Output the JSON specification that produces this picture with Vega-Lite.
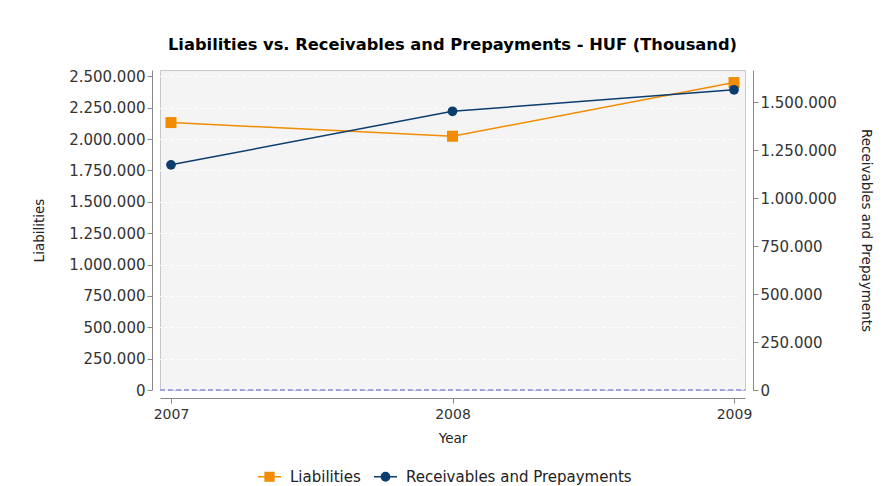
{
  "$schema": "https://vega.github.io/schema/vega-lite/v6.json",
  "autosize": {"type": "none"},
  "width": 585,
  "height": 320,
  "padding": {"left": 160, "top": 70, "right": 140, "bottom": 96},
  "background": "white",
  "config": {
    "locale": {"number": {"decimal": ",", "thousands": ".", "grouping": [3], "currency": ["", ""]}},
    "view": {"fill": "#f4f4f4", "stroke": "#c8c8c8", "strokeWidth": 1},
    "font": "DejaVu Sans",
    "axis": {
      "labelFont": "DejaVu Sans", "labelFontSize": 14, "labelColor": "#333333", "labelOverlap": false,
      "titleFont": "DejaVu Sans", "titleFontSize": 13.5, "titleFontWeight": "normal", "titleColor": "#222222",
      "domainColor": "#888888", "tickColor": "#888888", "tickSize": 5, "offset": 8
    }
  },
  "title": {
    "text": "Liabilities vs. Receivables and Prepayments - HUF (Thousand)",
    "font": "DejaVu Sans", "fontSize": 16.3, "fontWeight": "bold", "color": "#000000",
    "anchor": "middle", "offset": 16
  },
  "data": {
    "values": [
      {"year": "2007", "series": "Liabilities", "value": 2132000},
      {"year": "2008", "series": "Liabilities", "value": 2023000},
      {"year": "2009", "series": "Liabilities", "value": 2451000},
      {"year": "2007", "series": "Receivables and Prepayments", "value": 1173000},
      {"year": "2008", "series": "Receivables and Prepayments", "value": 1452000},
      {"year": "2009", "series": "Receivables and Prepayments", "value": 1564000}
    ]
  },
  "encoding": {
    "x": {
      "field": "year", "type": "ordinal",
      "scale": {"type": "point", "padding": 0.039},
      "axis": {"title": "Year", "grid": false, "labelAngle": 0, "labelPadding": 4, "titlePadding": 10, "labelOverlap": false}
    }
  },
  "layer": [
    {
      "transform": [{"filter": "datum.series === 'Liabilities'"}],
      "layer": [
        {
          "mark": {"type": "rule", "color": "#9a9ae0", "strokeDash": [5, 3], "strokeWidth": 1},
          "encoding": {"y": {"datum": 0, "type": "quantitative"}, "x": {"value": 0}, "x2": {"value": 585}}
        },
        {
          "mark": {"type": "line", "strokeWidth": 1.5, "point": {"filled": true, "shape": "square", "size": 121, "opacity": 1}},
          "encoding": {
            "y": {
              "field": "value", "type": "quantitative",
              "scale": {"domain": [0, 2551000], "nice": false},
              "axis": {"orient": "left", "title": "Liabilities", "format": ",.0f", "labelFontSize": 15, "labelOverlap": false, "tickCount": 50,
                       "values": [0, 250000, 500000, 750000, 1000000, 1250000, 1500000, 1750000, 2000000, 2250000, 2500000],
                       "grid": true, "gridColor": "#ffffff", "gridDash": [3, 3], "titlePadding": 22}
            },
            "color": {
              "field": "series", "type": "nominal",
              "scale": {"domain": ["Liabilities", "Receivables and Prepayments"], "range": ["#f28c00", "#0b3d6e"]},
              "legend": {
                "orient": "none", "legendX": 97, "legendY": 394, "direction": "horizontal", "title": null,
                "labelFont": "DejaVu Sans", "labelFontSize": 15, "labelColor": "#222222", "labelLimit": 0,
                "symbolSize": 529, "symbolStrokeWidth": 1.5, "columnPadding": 10, "labelOffset": 8,
                "encode": {
                  "symbols": {
                    "update": {
                      "shape": {"signal": "datum.value === 'Liabilities' ? 'M-1,0H1M-0.38,-0.38H0.38V0.38H-0.38Z' : 'M-1,0H1M0.36,0A0.36,0.36,0,1,1,-0.36,0A0.36,0.36,0,1,1,0.36,0Z'"},
                      "fill": {"signal": "datum.value === 'Liabilities' ? '#f28c00' : '#0b3d6e'"},
                      "stroke": {"signal": "datum.value === 'Liabilities' ? '#f28c00' : '#0b3d6e'"},
                      "strokeWidth": {"value": 1.5},
                      "opacity": {"value": 1}
                    }
                  }
                }
              }
            }
          }
        }
      ]
    },
    {
      "transform": [{"filter": "datum.series === 'Receivables and Prepayments'"}],
      "mark": {"type": "line", "strokeWidth": 1.5, "point": {"filled": true, "shape": "circle", "size": 95, "opacity": 1}},
      "encoding": {
        "y": {
          "field": "value", "type": "quantitative",
          "scale": {"domain": [0, 1667000], "nice": false},
          "axis": {"orient": "right", "title": "Receivables and Prepayments", "format": ",.0f", "labelFontSize": 15, "labelOverlap": false, "tickCount": 50,
                   "values": [0, 250000, 500000, 750000, 1000000, 1250000, 1500000],
                   "grid": false, "titlePadding": 22}
        },
        "color": {"field": "series", "type": "nominal"}
      }
    }
  ],
  "resolve": {"scale": {"y": "independent"}, "axis": {"y": "independent"}}
}
